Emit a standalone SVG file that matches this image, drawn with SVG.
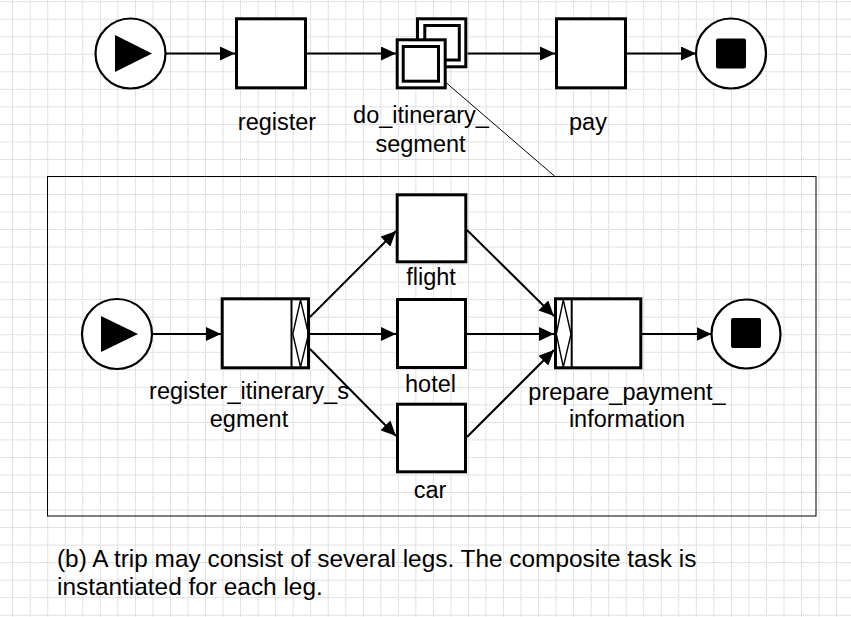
<svg xmlns="http://www.w3.org/2000/svg" width="851" height="617" viewBox="0 0 851 617">
<style>
.task{fill:#fff;stroke:#000;stroke-width:3}
.ev{fill:#fff;stroke:#000;stroke-width:2.2}
.div{stroke:#000;stroke-width:2;fill:none}
.dia{fill:none;stroke:#000;stroke-width:1.4}
.flow{fill:none;stroke:#000;stroke-width:2;marker-end:url(#arr)}
.lbl{font-family:"Liberation Sans",Arial,sans-serif;font-size:23.5px;fill:#000;text-anchor:middle}
.cap{font-family:"Liberation Sans",Arial,sans-serif;font-size:24.4px;fill:#000}
</style>
<defs>
<pattern id="grid" x="12.2" y="1.2" width="17.53" height="17.53" patternUnits="userSpaceOnUse">
<path d="M0.5 0V17.53M0 0.5H17.53" stroke="#c2c2c2" stroke-width="1" stroke-dasharray="1 1" fill="none"/>
</pattern>
<marker id="arr" viewBox="0 0 15 14" refX="15" refY="7" markerWidth="15" markerHeight="14" markerUnits="userSpaceOnUse" orient="auto">
<path d="M0,0L15,7L0,14z" fill="#000"/>
</marker>
</defs>
<rect x="0" y="0" width="851" height="617" fill="#fff"/>
<rect x="0" y="0" width="851" height="617" fill="url(#grid)"/>

<g id="connectors">
<path class="flow" d="M165.5,53.5H235"/>
<path class="flow" d="M307,53.5H396"/>
<path class="flow" d="M467.5,53.5H555"/>
<path class="flow" d="M627,53.5H696"/>
<path d="M421,61L555,176.5" stroke="#000" stroke-width="1" fill="none"/>
<path class="flow" d="M152,334H221"/>
<path class="flow" d="M310,317L396,231"/>
<path class="flow" d="M310,334H396"/>
<path class="flow" d="M310,349L396,436"/>
<path class="flow" d="M467,230L554,316"/>
<path class="flow" d="M467,334H554"/>
<path class="flow" d="M467,437L554,350"/>
<path class="flow" d="M642,334H711.5"/>
</g>

<g id="start_top">
<circle class="ev" cx="130.5" cy="53.5" r="35"/>
<path d="M115,35L115,72L152,53.5z" fill="#000"/>
</g>
<g id="register">
<rect class="task" x="236.5" y="18.8" width="69" height="69"/>
<text class="lbl" x="277" y="129.5">register</text>
</g>
<g id="do_itinerary_segment">
<rect class="task" x="417.5" y="18.8" width="48.3" height="48"/>
<rect class="task" x="424.8" y="25.5" width="34.5" height="34.5"/>
<rect class="task" x="397.2" y="39.8" width="48" height="48"/>
<rect class="task" x="403.2" y="46.5" width="35.3" height="34.7"/>
<text class="lbl" x="421" y="123.3">do_itinerary_</text>
<text class="lbl" x="420.5" y="151.7">segment</text>
</g>
<g id="pay">
<rect class="task" x="556.5" y="18.8" width="69" height="69"/>
<text class="lbl" x="588" y="130">pay</text>
</g>
<g id="end_top">
<circle class="ev" cx="731" cy="53.5" r="35"/>
<rect x="716" y="38.5" width="30" height="30" rx="2" fill="#000"/>
</g>

<g id="composite_frame">
<rect x="47.5" y="176.5" width="768.5" height="339.5" fill="none" stroke="#000" stroke-width="1"/>
</g>

<g id="start_inner">
<circle class="ev" cx="117" cy="334" r="35"/>
<path d="M101,316L101,352L138,334z" fill="#000"/>
</g>
<g id="register_itinerary_segment">
<rect class="task" x="222.2" y="298.8" width="86.3" height="69"/>
<path class="div" d="M291.5,298.8V367.8"/>
<path class="dia" d="M300.5,300L292.8,334L300.5,367L308.5,334z"/>
<text class="lbl" x="249" y="399">register_itinerary_s</text>
<text class="lbl" x="249" y="427">egment</text>
</g>
<g id="flight">
<rect class="task" x="397.2" y="194.8" width="68.6" height="67"/>
<text class="lbl" x="431" y="285">flight</text>
</g>
<g id="hotel">
<rect class="task" x="397.5" y="299.5" width="68" height="68"/>
<text class="lbl" x="430.5" y="391.7">hotel</text>
</g>
<g id="car">
<rect class="task" x="397.5" y="404.2" width="68" height="67.6"/>
<text class="lbl" x="430" y="497.7">car</text>
</g>
<g id="prepare_payment_information">
<rect class="task" x="555.5" y="298.8" width="85.3" height="69"/>
<path class="div" d="M571.7,298.8V367.8"/>
<path class="dia" d="M563.3,300L556.3,334L563.3,367L571,334z"/>
<text class="lbl" x="627" y="400">prepare_payment_</text>
<text class="lbl" x="627" y="427">information</text>
</g>
<g id="end_inner">
<circle class="ev" cx="746" cy="334" r="34.5"/>
<rect x="731" y="318" width="30" height="30" rx="2" fill="#000"/>
</g>

<g id="caption">
<text class="cap" x="57" y="567">(b) A trip may consist of several legs. The composite task is</text>
<text class="cap" x="57" y="595">instantiated for each leg.</text>
</g>
</svg>
